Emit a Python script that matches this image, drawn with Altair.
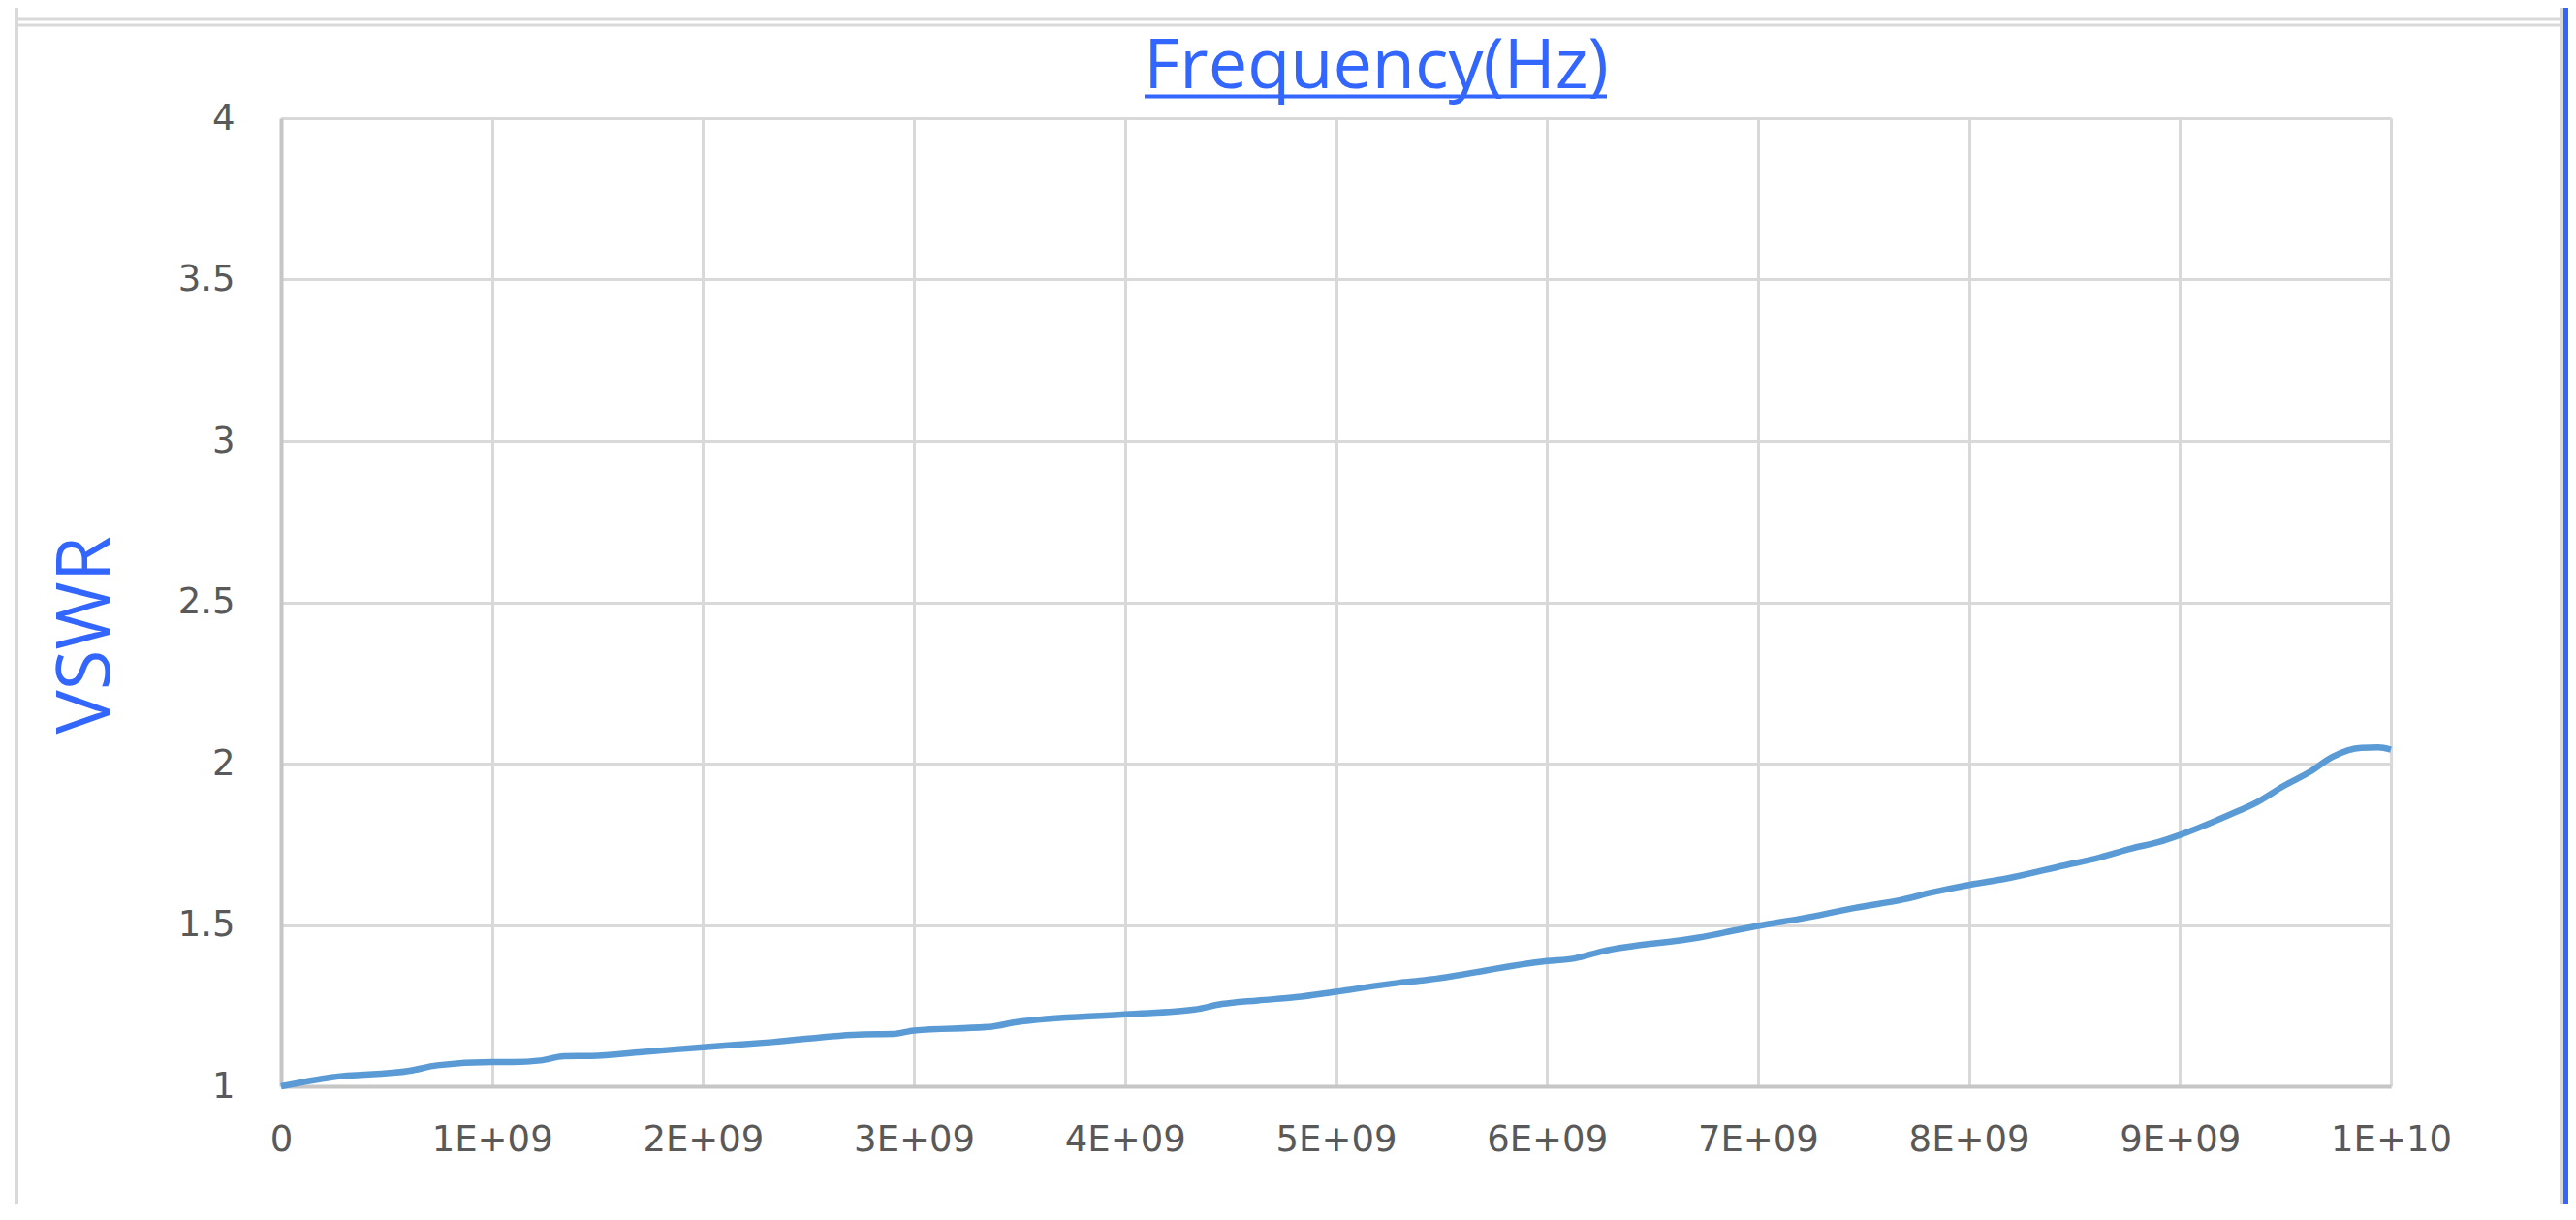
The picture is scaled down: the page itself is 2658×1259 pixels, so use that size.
import altair as alt
import pandas as pd

# ---- data ----
freq_ghz = [0, 0.24, 0.61, 0.74, 1.0, 1.1, 1.23, 1.34, 1.47, 1.71, 2.0, 2.33, 2.76, 2.9,
            3.0, 3.37, 3.48, 4.0, 4.33, 4.46, 4.63, 4.81, 5.0, 5.3, 5.42, 6.0, 6.13, 6.26,
            6.72, 6.93, 7.0, 7.2, 7.46, 7.69, 7.82, 8.0, 8.18, 8.45, 8.62, 8.77, 8.9, 9.0,
            9.23, 9.37, 9.49, 9.62, 9.72, 9.86, 9.94, 10.0]
vswr = [1.0, 1.028, 1.048, 1.065, 1.075, 1.075, 1.080, 1.093, 1.094, 1.106, 1.121, 1.137,
        1.161, 1.162, 1.173, 1.185, 1.198, 1.223, 1.238, 1.255, 1.266, 1.276, 1.293, 1.321,
        1.329, 1.388, 1.396, 1.418, 1.461, 1.488, 1.497, 1.519, 1.553, 1.579, 1.600, 1.624,
        1.644, 1.684, 1.709, 1.737, 1.757, 1.779, 1.840, 1.882, 1.930, 1.976, 2.020, 2.049,
        2.050, 2.043]

x_tick_values = [i * 1e9 for i in range(11)]
x_tick_labels = ["0", "1E+09", "2E+09", "3E+09", "4E+09", "5E+09",
                 "6E+09", "7E+09", "8E+09", "9E+09", "1E+10"]
y_tick_values = [1, 1.5, 2, 2.5, 3, 3.5, 4]
y_tick_labels = ["1", "1.5", "2", "2.5", "3", "3.5", "4"]

title_text = "Frequency(Hz)"
y_title = "VSWR"

df = pd.DataFrame({"freq": [f * 1e9 for f in freq_ghz], "vswr": vswr})

W, H = 2177, 999
BLUE_TXT = "#3366FF"
GRID = "#D9D9D9"
LABEL = "#595959"

x_expr = "[" + ",".join("'%s'" % s for s in x_tick_labels) + "][round(datum.value/1e9)]"
y_expr = "[" + ",".join("'%s'" % s for s in y_tick_labels) + "][round((datum.value-1)*2)]"

line = alt.Chart(df).mark_line(color="#5B9BD5", strokeWidth=6.5, interpolate="monotone").encode(
    x=alt.X("freq:Q",
            scale=alt.Scale(domain=[0, 1e10], nice=False, zero=False),
            axis=alt.Axis(values=x_tick_values, labelExpr=x_expr, title=None,
                          grid=True, gridColor=GRID, gridWidth=3,
                          domainColor="#C6C6C6", domainWidth=4, ticks=False,
                          labelPadding=37, labelFont="DejaVu Sans", labelFontSize=37,
                          labelColor=LABEL, labelFlush=False, labelOverlap=False)),
    y=alt.Y("vswr:Q",
            scale=alt.Scale(domain=[1, 4], nice=False, zero=False),
            axis=alt.Axis(values=y_tick_values, labelExpr=y_expr, title=y_title,
                          grid=True, gridColor=GRID, gridWidth=3,
                          domainColor="#C6C6C6", domainWidth=4, ticks=False,
                          labelPadding=48, labelFont="DejaVu Sans", labelFontSize=37,
                          labelColor=LABEL, labelFlush=False, labelOverlap=False,
                          titleFont="Open Sans", titleFontSize=76, titleFontWeight="normal",
                          titleColor=BLUE_TXT, titleX=-178, titleY=533, titleAngle=270,
                          titleBaseline="alphabetic", titleAlign="center")),
)

one = alt.Data(values=[{"k": 1}])

title_mark = alt.Chart(one).mark_text(
    text=title_text, font="Open Sans", fontSize=72, color=BLUE_TXT,
    align="center", baseline="alphabetic"
).encode(x=alt.value(1130), y=alt.value(-31))

underline = alt.Chart(one).mark_rule(color=BLUE_TXT, strokeWidth=4).encode(
    x=alt.value(891), x2=alt.value(1368), y=alt.value(-22.5))

frame_left = alt.Chart(one).mark_rule(color=GRID, strokeWidth=4).encode(
    x=alt.value(-273), y=alt.value(-122), y2=alt.value(1140))
frame_right = alt.Chart(one).mark_rule(color=GRID, strokeWidth=3).encode(
    x=alt.value(2353.5), y=alt.value(-122), y2=alt.value(1140))
frame_blue = alt.Chart(one).mark_rule(color=BLUE_TXT, strokeWidth=5).encode(
    x=alt.value(2357.5), y=alt.value(-122), y2=alt.value(1140))
frame_top1 = alt.Chart(one).mark_rule(color=GRID, strokeWidth=3).encode(
    x=alt.value(-273), x2=alt.value(2353), y=alt.value(-102))
frame_top2 = alt.Chart(one).mark_rule(color=GRID, strokeWidth=3).encode(
    x=alt.value(-273), x2=alt.value(2353), y=alt.value(-96))

chart = alt.layer(
    frame_left, frame_right, frame_blue, frame_top1, frame_top2,
    line, title_mark, underline
).properties(
    width=W, height=H,
    autosize=alt.AutoSizeParams(type="none"),
    padding={"left": 282, "top": 114, "right": 183, "bottom": 122},
    background="white",
).configure_view(stroke=None)

chart.save("out.html", embed_options={"renderer": "svg", "actions": False})
